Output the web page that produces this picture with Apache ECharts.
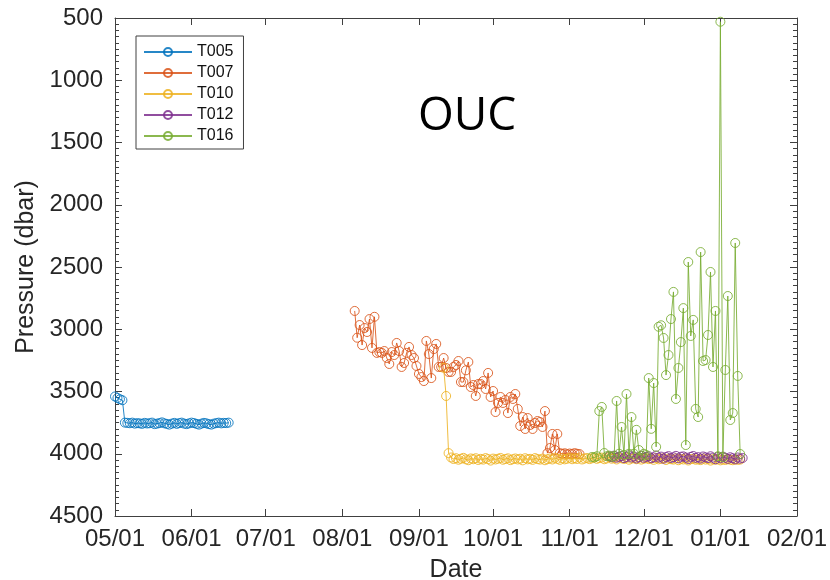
<!DOCTYPE html>
<html>
<head>
<meta charset="utf-8">
<script src="https://cdn.jsdelivr.net/npm/echarts@6/dist/echarts.min.js"></script>
<style>
html,body{margin:0;padding:0;background:#fff;}
#chart{width:830px;height:580px;}
</style>
</head>
<body>
<div id="chart"></div>
<script>
// ---- data (daily samples from each start date) ----
const seriesNames = ['T005', 'T007', 'T010', 'T012', 'T016'];
const xTickDates = ['2019-05-01','2019-06-01','2019-07-01','2019-08-01','2019-09-01','2019-10-01','2019-11-01','2019-12-01','2020-01-01','2020-02-01'];
const xTickLabels = ['05/01','06/01','07/01','08/01','09/01','10/01','11/01','12/01','01/01','02/01'];
const yTicks = [500,1000,1500,2000,2500,3000,3500,4000,4500];

const t005Start = '2019-05-01';
const t005Values = [3540,3552,3562,3570,3750,3752,3755,3750,3758,3754,
  3756,3760,3752,3757,3755,3750,3762,3758,3754,3748,
  3756,3760,3766,3758,3752,3760,3754,3750,3758,3762,
  3756,3750,3754,3760,3766,3758,3752,3756,3762,3766,
  3758,3754,3750,3756,3752,3754,3750];

const t007Start = '2019-08-06';
const t007Values = [2853,3068,2966,3127,2990,3022,2918,3150,2900,3190,
  3183,3190,3175,3231,3279,3183,3207,3110,3175,3303,
  3271,3190,3142,3207,3231,3295,3359,3384,3416,3094,
  3199,3392,3159,3118,3303,3303,3231,3311,3343,3343,
  3303,3287,3255,3424,3424,3330,3263,3464,3448,3536,
  3440,3440,3416,3480,3351,3544,3496,3665,3592,3544,
  3592,3568,3673,3544,3560,3520,3640,3777,3705,3801,
  3713,3769,3801,3753,3737,3745,3785,3657,3995,3954,
  3841,3970,3841,3995,4000,3996,4004,3998,4002,3995,
  4000,4003];

const t010Start = '2019-09-11';
const t010Values = [3310,3536,3995,
  4030,4042,4036,4048,4040,4033,4045,4052,4038,4044,4036,4050,4041,4047,4035,4043,4055,4039,4046,4040,
  4034,4048,4042,4037,4051,4044,4038,4046,4040,4053,4036,4045,4041,4049,4035,4043,4047,4039,4052,4044,
  4038,4046,4033,4041,4049,4037,4045,4040,4032,4044,4036,4042,4030,4046,4039,4034,4043,4037,4028,4041,
  4035,4031,4044,4038,4026,4040,4034,4046,4030,4037,4042,4033,4048,4039,4036,4044,4031,4047,4040,4035,
  4043,4038,4049,4034,4045,4041,4036,4050,4039,4044,4047,4037,4052,4041,4046,4038,4054,4043,4040,4048,
  4045,4051,4039,4047,4042,4055,4044,4049,4041,4053,4046,4050,4043,4048,4052,4045,4049,4047];

const t012Start = '2019-11-17';
const t012Values = [4020,4028,4015,4032,4024,4018,4035,4026,4012,4030,4022,4038,4027,4016,4033,4025,4020,4036,4029,4014,
  4031,4023,4040,4026,4019,4034,4028,4017,4037,4024,4021,4030,4042,4025,4018,4033,4027,4039,4022,4029,
  4035,4020,4031,4044,4026,4037,4023,4032,4041,4028,4036,4045,4030,4039,4034];

const t016Start = '2019-11-10';
const t016Values = [4026,4030,4020,3657,3624,3994,4020,4015,4025,4018,
  3576,4000,3785,4010,3520,4000,3705,4000,3808,3970,
  4015,4000,4010,3392,3800,3432,3945,2980,2968,3070,
  3368,3207,2918,2700,3560,3311,3103,2830,3930,2460,
  3054,2925,3640,3705,2380,3255,3247,3046,2540,3303,
  2853,4020,530,4026,3327,2733,3729,3673,2307,3375,
  4002];

const colors = ['#0072BD','#D95319','#EDB120','#7E2F8E','#77AC30'];

// ---- helpers: x is measured in days since the first tick date ----
const DAY = 86400000;
function dateUTC(str) {
  const p = str.split('-').map(Number);
  return Date.UTC(p[0], p[1] - 1, p[2]);
}
const origin = dateUTC(xTickDates[0]);
function dayOf(str) { return Math.round((dateUTC(str) - origin) / DAY); }
function build(start, vals) {
  const d0 = dayOf(start);
  return vals.map((v, i) => [d0 + i, v]);
}
const allData = [
  build(t005Start, t005Values),
  build(t007Start, t007Values),
  build(t010Start, t010Values),
  build(t012Start, t012Values),
  build(t016Start, t016Values)
];
const tickDays = xTickDates.map(dayOf);
function fmtX(v) {
  const i = tickDays.indexOf(Math.round(v));
  return i >= 0 ? xTickLabels[i] : '';
}

const axisColor = '#404040';
const FONT = 'Liberation Sans';

const chart = echarts.init(document.getElementById('chart'), null, {renderer: 'canvas'});
const xBase = {
  type: 'value',
  min: tickDays[0], max: tickDays[tickDays.length - 1],
  axisLine: {show: true, onZero: false, lineStyle: {color: axisColor, width: 1}},
  axisTick: {show: true, inside: true, length: 7, customValues: tickDays, lineStyle: {color: axisColor}},
  splitLine: {show: false}
};
const yBase = {
  type: 'value', inverse: true, min: yTicks[0], max: yTicks[yTicks.length - 1], interval: 500,
  axisLine: {show: true, onZero: false, lineStyle: {color: axisColor, width: 1}},
  axisTick: {show: true, inside: true, length: 7, lineStyle: {color: axisColor}},
  minorTick: {show: true, splitNumber: 10, length: 4, lineStyle: {color: axisColor}},
  splitLine: {show: false}
};
const option = {
  animation: false,
  backgroundColor: '#ffffff',
  grid: {left: 115, top: 18, width: 682, height: 498, containLabel: false, outerBoundsMode: 'none'},
  legend: {
    orient: 'vertical',
    left: 136, top: 36,
    data: seriesNames,
    itemWidth: 48, itemHeight: 10, itemGap: 5,
    padding: [8, 10, 5, 7],
    borderColor: '#404040', borderWidth: 1,
    backgroundColor: '#fff',
    textStyle: {fontFamily: FONT, fontSize: 16, color: '#111'}
  },
  xAxis: [
    Object.assign({}, xBase, {
      position: 'bottom',
      name: 'Date', nameLocation: 'middle', nameGap: 42,
      nameTextStyle: {fontFamily: FONT, fontSize: 25, color: '#262626'},
      axisLabel: {show: true, customValues: tickDays, formatter: fmtX, margin: 11, fontFamily: FONT, fontSize: 24, color: '#262626', hideOverlap: false}
    }),
    Object.assign({}, xBase, {position: 'top', axisLabel: {show: false}})
  ],
  yAxis: [
    Object.assign({}, yBase, {
      position: 'left',
      name: 'Pressure (dbar)', nameLocation: 'middle', nameGap: 55, nameRotate: 90,
      nameTextStyle: {fontFamily: FONT, fontSize: 25, color: '#262626'},
      axisLabel: {margin: 12, fontFamily: FONT, fontSize: 24, color: '#262626', formatter: v => String(v)}
    }),
    Object.assign({}, yBase, {position: 'right', axisLabel: {show: false}})
  ],
  graphic: [{
    type: 'text', left: 418, top: 94, z: 100,
    style: {text: 'OUC', fontFamily: 'Open Sans', fontSize: 46, fill: '#000'}
  }],
  series: seriesNames.map((n, i) => ({
    name: n, type: 'line', xAxisIndex: 0, yAxisIndex: 0,
    data: allData[i],
    symbol: 'circle', symbolSize: 9, showSymbol: true, showAllSymbol: true,
    lineStyle: {color: colors[i], width: 1, opacity: 0.85},
    itemStyle: {color: 'rgba(255,255,255,0)', borderColor: colors[i], borderWidth: 1, opacity: 0.85},
    emphasis: {disabled: true},
    z: 2 + i
  }))
};
chart.setOption(option);
</script>
</body>
</html>
